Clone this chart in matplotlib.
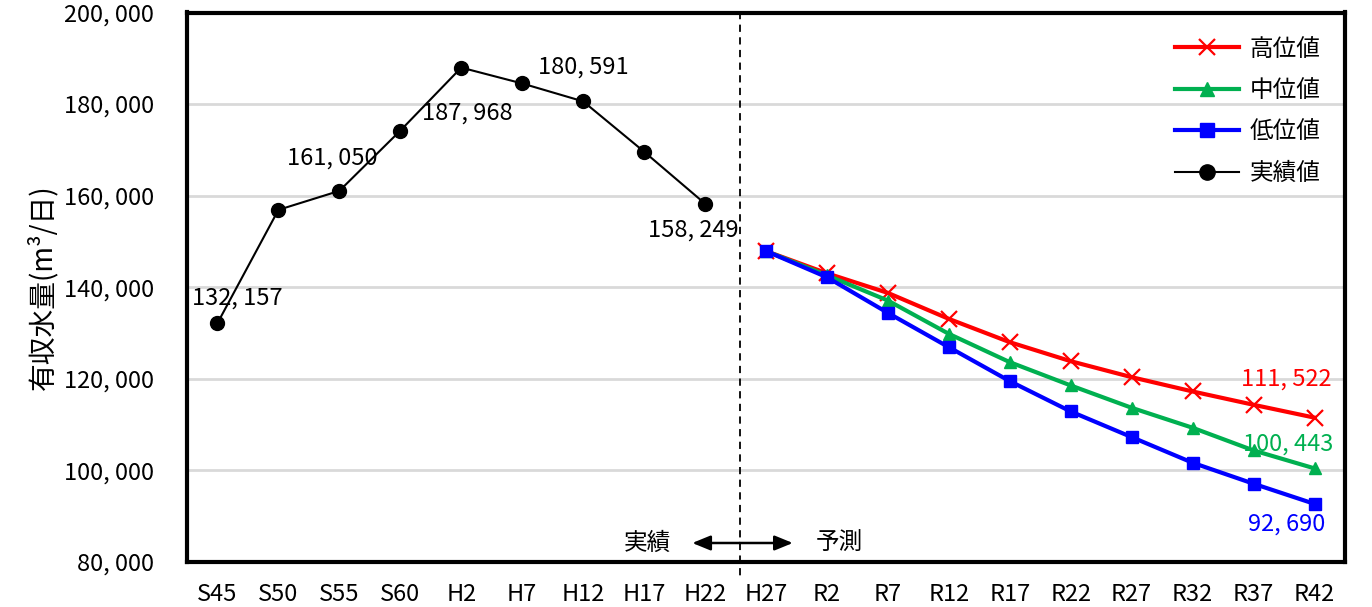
import matplotlib
matplotlib.use("Agg")
import matplotlib.pyplot as plt

plt.rcParams['font.family'] = ['Noto Sans CJK JP', 'DejaVu Sans']

# 年度区分
categories = ["S45", "S50", "S55", "S60", "H2", "H7", "H12", "H17", "H22",
              "H27", "R2", "R7", "R12", "R17", "R22", "R27", "R32", "R37", "R42"]

# 実績値 (S45〜H22)
actual = [132157, 156900, 161050, 174200, 187968, 184500, 180591, 169600, 158249]

# 予測値 (H27〜R42)
high = [147900, 143050, 138760, 133090, 128000, 123850, 120360, 117240, 114330, 111522]
mid = [147900, 142600, 137090, 129820, 123640, 118550, 113670, 109310, 104360, 100443]
low = [147900, 142180, 134400, 126910, 119490, 112870, 107270, 101670, 97090, 92690]

yticks = [80000, 100000, 120000, 140000, 160000, 180000, 200000]

FS = 17

fig = plt.figure(figsize=(13.72, 6.07), dpi=100)
ax = fig.add_axes([187 / 1372, 1 - 562 / 607, 1158 / 1372, 549.5 / 607])

x_act = list(range(len(actual)))
x_fc = list(range(len(actual), len(categories)))

ax.plot(x_fc, high, color="#ff0000", lw=3, marker="x", ms=11, mew=1.6, label="高位値", zorder=4)
ax.plot(x_fc, mid, color="#00b050", lw=3, marker="^", ms=9, label="中位値", zorder=4)
ax.plot(x_fc, low, color="#0000ff", lw=3, marker="s", ms=9, label="低位値", zorder=4)
ax.plot(x_act, actual, color="black", lw=1.5, marker="o", ms=10, label="実績値", zorder=4)

ax.set_xlim(-0.5, len(categories) - 0.5)
ax.set_ylim(80000, 200000)
ax.set_yticks(yticks)
ax.set_yticklabels([f"{v // 1000}, {v % 1000:03d}" for v in yticks], fontsize=FS)
ax.set_xticks(range(len(categories)))
ax.set_xticklabels(categories, fontsize=FS)
ax.tick_params(axis="both", length=0)
ax.tick_params(axis="y", pad=24)
ax.tick_params(axis="x", pad=15)

ax.grid(axis="y", color="#d9d9d9", lw=2)
ax.set_axisbelow(True)
for s in ax.spines.values():
    s.set_linewidth(3)
    s.set_color("black")

ax.set_ylabel("有収水量(m³/日)", fontsize=20, labelpad=4)


def fmt(v):
    return f"{v // 1000}, {v % 1000:03d}"


def label(xi, yv, dx, dy, color="black"):
    ax.annotate(fmt(yv), (xi, yv), xytext=(dx, dy), textcoords="offset pixels",
                ha="center", va="center", fontsize=FS, color=color, zorder=5)


label(0, actual[0], 20, 25)
label(2, actual[2], -7, 33)
label(4, actual[4], 6, -46)
label(6, actual[6], 0, 34)
label(8, actual[8], -12, -26)
label(x_fc[-1], high[-1], -28, 39, "#ff0000")
label(x_fc[-1], mid[-1], -26, 24, "#00b050")
label(x_fc[-1], low[-1], -28, -20, "#0000ff")

# 実績と予測の境界
ax.plot([8.57, 8.57], [200000, 77000], color="black", lw=1.3, ls=(0, (4, 3)),
        clip_on=False, zorder=3)
arrow = dict(arrowstyle="-|>,head_length=1.1,head_width=0.45",
             color="black", lw=1.8, shrinkA=0, shrinkB=0)
ax.annotate("", xy=(7.79, 84150), xytext=(8.57, 84150), arrowprops=arrow)
ax.annotate("", xy=(9.44, 84150), xytext=(8.57, 84150), arrowprops=arrow)
ax.text(7.05, 84150, "実績", ha="center", va="center", fontsize=FS)
ax.text(10.21, 84150, "予測", ha="center", va="center", fontsize=FS)

ax.legend(loc="upper right", bbox_to_anchor=(0.997, 0.993), frameon=False,
          fontsize=FS, handlelength=2.7, labelspacing=0.78, handletextpad=0.45,
          markerscale=1.1)

fig.savefig("out.png", dpi=100)
